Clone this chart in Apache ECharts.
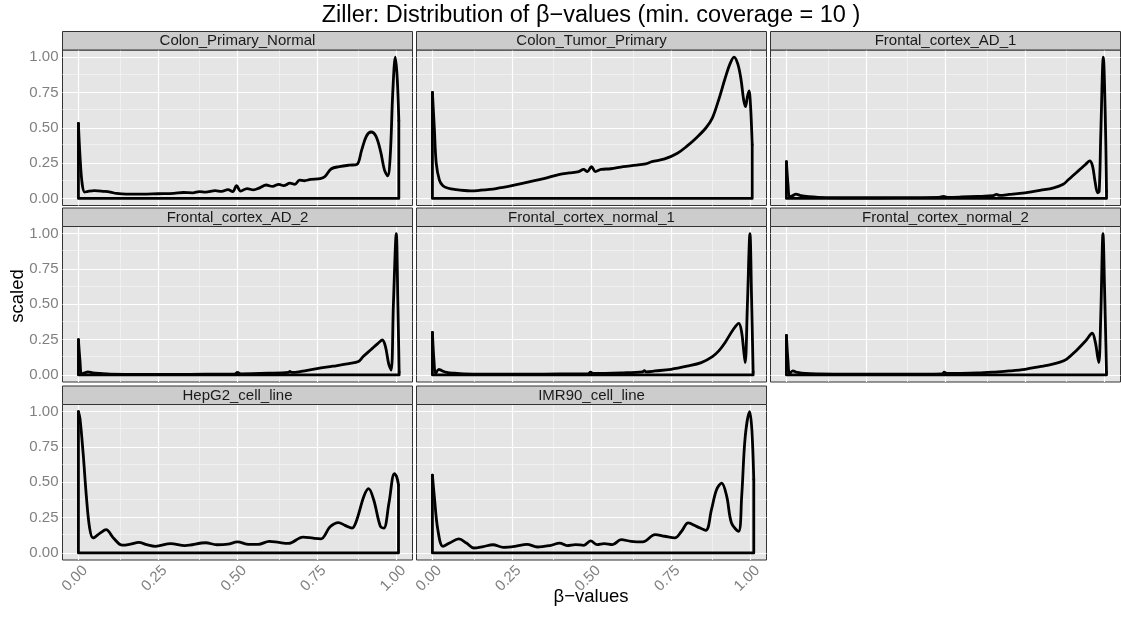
<!DOCTYPE html>
<html>
<head>
<meta charset="utf-8">
<script src="https://cdn.jsdelivr.net/npm/echarts@6/dist/echarts.min.js"></script>
<style>html,body{margin:0;padding:0;background:#fff}#c{width:1121px;height:621px}</style>
</head>
<body>
<div id="c"></div>
<script>
// ---------- DATA ----------
const panelNames = ["Colon_Primary_Normal", "Colon_Tumor_Primary", "Frontal_cortex_AD_1",
  "Frontal_cortex_AD_2", "Frontal_cortex_normal_1", "Frontal_cortex_normal_2",
  "HepG2_cell_line", "IMR90_cell_line"];

const xTicks = [0, 0.25, 0.5, 0.75, 1];
const yTicks = [0, 0.25, 0.5, 0.75, 1];
const minorTicks = [0.125, 0.375, 0.625, 0.875];

const colonNormal = [[0,0.53],[0.005,0.3],[0.012,0.1],[0.02,0.045],[0.03,0.05],[0.05,0.055],[0.08,0.05],[0.1,0.045],[0.12,0.035],[0.15,0.03],[0.2,0.03],[0.25,0.033],[0.3,0.036],[0.33,0.042],[0.36,0.04],[0.38,0.048],[0.4,0.045],[0.43,0.055],[0.45,0.05],[0.47,0.062],[0.485,0.048],[0.497,0.09],[0.51,0.052],[0.53,0.07],[0.55,0.06],[0.57,0.075],[0.59,0.095],[0.61,0.085],[0.63,0.1],[0.645,0.09],[0.665,0.108],[0.68,0.1],[0.695,0.13],[0.71,0.125],[0.73,0.135],[0.76,0.14],[0.775,0.155],[0.795,0.21],[0.82,0.225],[0.85,0.235],[0.875,0.24],[0.89,0.34],[0.905,0.44],[0.92,0.47],[0.935,0.44],[0.95,0.33],[0.962,0.2],[0.972,0.16],[0.98,0.3],[0.988,0.75],[0.996,1.0],[1.002,0.85],[1.007,0.55]];

const colonTumor = [[0,0.75],[0.006,0.5],[0.012,0.25],[0.022,0.13],[0.033,0.09],[0.05,0.072],[0.075,0.062],[0.1,0.056],[0.12,0.054],[0.15,0.058],[0.2,0.07],[0.25,0.09],[0.3,0.115],[0.35,0.14],[0.4,0.17],[0.43,0.18],[0.46,0.19],[0.475,0.205],[0.487,0.19],[0.5,0.225],[0.512,0.19],[0.53,0.205],[0.56,0.21],[0.6,0.225],[0.64,0.235],[0.67,0.245],[0.69,0.26],[0.73,0.28],[0.77,0.32],[0.8,0.37],[0.83,0.43],[0.86,0.5],[0.88,0.57],[0.9,0.7],[0.92,0.85],[0.935,0.95],[0.948,1.0],[0.96,0.95],[0.97,0.84],[0.978,0.7],[0.984,0.65],[0.99,0.72],[0.995,0.76],[1.0,0.65],[1.005,0.38]];

const frontalAD1 = [[0,0.26],[0.005,0.1],[0.01,0.01],[0.02,0.02],[0.03,0.03],[0.045,0.02],[0.07,0.012],[0.1,0.008],[0.2,0.005],[0.3,0.005],[0.4,0.006],[0.48,0.007],[0.494,0.015],[0.505,0.008],[0.55,0.01],[0.6,0.014],[0.65,0.02],[0.66,0.028],[0.67,0.022],[0.7,0.028],[0.75,0.04],[0.8,0.058],[0.84,0.075],[0.87,0.1],[0.885,0.13],[0.9,0.16],[0.92,0.2],[0.94,0.24],[0.953,0.265],[0.962,0.23],[0.97,0.12],[0.978,0.04],[0.983,0.05],[0.988,0.45],[0.996,1.0],[1.002,0.6],[1.006,0.05]];

const frontalAD2 = [[0,0.25],[0.005,0.1],[0.01,0.005],[0.02,0.015],[0.03,0.022],[0.045,0.015],[0.07,0.01],[0.1,0.006],[0.2,0.004],[0.3,0.004],[0.4,0.005],[0.49,0.006],[0.5,0.018],[0.51,0.008],[0.6,0.012],[0.66,0.018],[0.665,0.025],[0.67,0.018],[0.7,0.025],[0.75,0.045],[0.8,0.062],[0.85,0.08],[0.88,0.095],[0.895,0.13],[0.92,0.18],[0.94,0.22],[0.955,0.247],[0.965,0.2],[0.975,0.08],[0.983,0.035],[0.99,0.5],[0.999,1.0],[1.004,0.5],[1.008,0.02]];

const frontalNormal1 = [[0,0.3],[0.005,0.1],[0.01,0.01],[0.02,0.04],[0.03,0.03],[0.045,0.018],[0.07,0.012],[0.1,0.008],[0.2,0.005],[0.3,0.005],[0.4,0.007],[0.49,0.008],[0.497,0.02],[0.505,0.01],[0.6,0.015],[0.66,0.022],[0.666,0.03],[0.672,0.022],[0.7,0.028],[0.75,0.04],[0.8,0.062],[0.845,0.087],[0.88,0.13],[0.9,0.17],[0.92,0.23],[0.945,0.32],[0.963,0.365],[0.972,0.3],[0.978,0.18],[0.983,0.087],[0.99,0.5],[0.998,1.0],[1.003,0.55],[1.008,0.02]];

const frontalNormal2 = [[0,0.28],[0.005,0.1],[0.01,0.008],[0.02,0.028],[0.035,0.018],[0.06,0.01],[0.1,0.007],[0.2,0.005],[0.3,0.005],[0.4,0.006],[0.49,0.008],[0.496,0.02],[0.505,0.01],[0.6,0.014],[0.663,0.022],[0.7,0.028],[0.75,0.04],[0.8,0.06],[0.82,0.068],[0.86,0.09],[0.88,0.11],[0.91,0.17],[0.94,0.24],[0.961,0.295],[0.971,0.23],[0.978,0.13],[0.982,0.087],[0.988,0.42],[0.995,1.0],[1.0,0.6],[1.006,0.02]];

const hepG2 = [[0,1.0],[0.005,0.95],[0.015,0.7],[0.025,0.4],[0.035,0.18],[0.046,0.106],[0.068,0.14],[0.087,0.165],[0.11,0.106],[0.138,0.055],[0.163,0.062],[0.19,0.075],[0.215,0.058],[0.242,0.047],[0.29,0.066],[0.335,0.052],[0.4,0.072],[0.435,0.058],[0.47,0.062],[0.5,0.078],[0.535,0.06],[0.565,0.06],[0.6,0.082],[0.63,0.074],[0.66,0.068],[0.706,0.112],[0.738,0.104],[0.762,0.1],[0.791,0.185],[0.817,0.215],[0.838,0.195],[0.86,0.176],[0.875,0.235],[0.897,0.4],[0.912,0.455],[0.928,0.376],[0.949,0.188],[0.96,0.176],[0.976,0.353],[0.993,0.56],[1.0,0.54],[1.006,0.48]];

const imr90 = [[0,0.55],[0.006,0.4],[0.017,0.165],[0.033,0.047],[0.054,0.07],[0.083,0.099],[0.107,0.07],[0.13,0.035],[0.16,0.045],[0.19,0.058],[0.223,0.04],[0.26,0.047],[0.297,0.061],[0.33,0.042],[0.372,0.054],[0.4,0.07],[0.423,0.052],[0.45,0.059],[0.476,0.054],[0.497,0.085],[0.518,0.059],[0.54,0.066],[0.566,0.059],[0.593,0.094],[0.624,0.082],[0.661,0.078],[0.7,0.13],[0.73,0.118],[0.762,0.106],[0.783,0.153],[0.804,0.212],[0.83,0.188],[0.859,0.16],[0.877,0.306],[0.893,0.447],[0.909,0.494],[0.925,0.4],[0.94,0.212],[0.962,0.153],[0.972,0.4],[0.983,0.82],[0.997,1.0],[1.004,0.87],[1.01,0.52]];

const panelData = [colonNormal, colonTumor, frontalAD1, frontalAD2, frontalNormal1, frontalNormal2, hepG2, imr90];

// ---------- LAYOUT ----------
const colLeft = [62.5, 416.5, 770.5];
const rowTop = [50, 226.5, 404.5];
const panelW = 350, panelH = 155.5, stripH = 18.5;
const FONT = '"Liberation Sans", Arial, Helvetica, sans-serif';

const grids = [], xAxes = [], yAxes = [], series = [], graphics = [];
const fmt = v => Number(v).toFixed(2);

panelData.forEach((d, i) => {
  const r = Math.floor(i / 3), c = i % 3;
  grids.push({
    left: colLeft[c], top: rowTop[r], width: panelW, height: panelH,
    show: true, backgroundColor: '#E5E5E5', borderColor: '#333333', borderWidth: 1,
    containLabel: false, outerBoundsMode: 'none'
  });
  xAxes.push({
    gridIndex: i, type: 'value', min: -0.05, max: 1.05,
    axisLine: {show: false}, axisTick: {show: false}, splitLine: {show: false},
    axisLabel: {
      show: r === 2, customValues: xTicks, formatter: fmt, rotate: 45,
      align: 'center', verticalAlign: 'middle', margin: 15, padding: [0, 10, 0, 0],
      color: '#808080', fontSize: 15, fontFamily: FONT, hideOverlap: false
    }
  });
  yAxes.push({
    gridIndex: i, type: 'value', min: -0.05, max: 1.05,
    axisLine: {show: false}, axisTick: {show: false}, splitLine: {show: false},
    axisLabel: {
      show: c === 0, customValues: yTicks, formatter: fmt, margin: 4,
      color: '#808080', fontSize: 15, fontFamily: FONT, hideOverlap: false
    }
  });
  const gl = [];
  minorTicks.forEach(v => {
    gl.push({xAxis: v, lineStyle: {color: '#F2F2F2', width: 0.8, type: 'solid'}});
    gl.push({yAxis: v, lineStyle: {color: '#F2F2F2', width: 0.8, type: 'solid'}});
  });
  xTicks.forEach(v => gl.push({xAxis: v, lineStyle: {color: '#FFFFFF', width: 1.2, type: 'solid'}}));
  yTicks.forEach(v => gl.push({yAxis: v, lineStyle: {color: '#FFFFFF', width: 1.2, type: 'solid'}}));
  series.push({
    type: 'line', xAxisIndex: i, yAxisIndex: i, data: [], silent: true, z: 1,
    markLine: {silent: true, symbol: ['none', 'none'], label: {show: false}, animation: false, z: 1, data: gl}
  });
  series.push({
    type: 'line', xAxisIndex: i, yAxisIndex: i, data: d, smooth: 0.35,
    showSymbol: false, silent: true, clip: false, z: 3,
    lineStyle: {color: '#000000', width: 2.8, cap: 'round', join: 'round'}
  });
  const first = d[0], last = d[d.length - 1];
  series.push({
    type: 'line', xAxisIndex: i, yAxisIndex: i,
    data: [[last[0], last[1]], [last[0], 0], [first[0], 0], [first[0], first[1]]],
    showSymbol: false, silent: true, clip: false, z: 3,
    lineStyle: {color: '#000000', width: 2.8, cap: 'round', join: 'round'}
  });
  graphics.push({
    type: 'rect', shape: {x: colLeft[c], y: rowTop[r] - stripH, width: panelW, height: stripH},
    style: {fill: '#CCCCCC', stroke: '#333333', lineWidth: 1}, z: 10
  });
  graphics.push({
    type: 'text', x: colLeft[c] + panelW / 2, y: rowTop[r] - stripH / 2 + 0.5, z: 11,
    style: {text: panelNames[i], fill: '#1A1A1A', fontSize: 15, fontFamily: FONT,
      align: 'center', verticalAlign: 'middle', textAlign: 'center', textVerticalAlign: 'middle'}
  });
});

graphics.push({
  type: 'text', x: 591, y: 16, z: 11,
  style: {text: 'Ziller: Distribution of \u03B2\u2212values (min. coverage = 10 )', fill: '#000000',
    fontSize: 23.5, fontFamily: FONT, align: 'center', verticalAlign: 'middle', textAlign: 'center', textVerticalAlign: 'middle'}
});
graphics.push({
  type: 'text', x: 18, y: 296, rotation: Math.PI / 2, z: 11,
  style: {text: 'scaled', fill: '#000000', fontSize: 18.5, fontFamily: FONT,
    align: 'center', verticalAlign: 'middle', textAlign: 'center', textVerticalAlign: 'middle'}
});
graphics.push({
  type: 'text', x: 591, y: 597, z: 11,
  style: {text: '\u03B2\u2212values', fill: '#000000', fontSize: 18.5, fontFamily: FONT,
    align: 'center', verticalAlign: 'middle', textAlign: 'center', textVerticalAlign: 'middle'}
});

const chart = echarts.init(document.getElementById('c'), null, {renderer: 'canvas'});
chart.setOption({
  animation: false,
  backgroundColor: '#FFFFFF',
  grid: grids, xAxis: xAxes, yAxis: yAxes, series: series, graphic: graphics
});
</script>
</body>
</html>
